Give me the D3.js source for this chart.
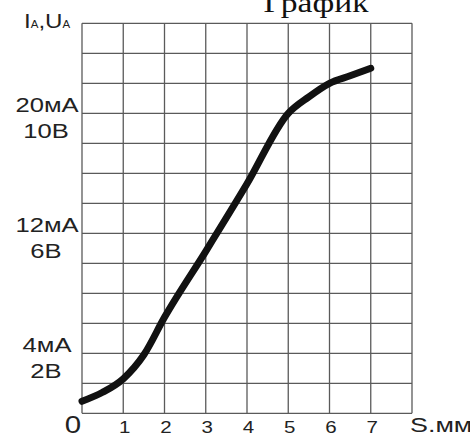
<!DOCTYPE html>
<html>
<head>
<meta charset="utf-8">
<script src="https://cdn.jsdelivr.net/npm/d3@7"></script>
<style>
  body { margin: 0; background: #fff; }
  text { font-family: "Liberation Sans", Arial, sans-serif; fill: #222; }
</style>
</head>
<body>
<svg id="sg"></svg>
<script>
// displacement S, mm and current I, mA (U = I/2, V)
const sValues = [0, 0.5, 1, 1.5, 2, 3, 4, 5, 5.5, 6, 6.5, 7];
const currentMA = [0.8, 1.4, 2.3, 3.9, 6.4, 10.8, 15.3, 20, 21.1, 22, 22.5, 23];
const xTicks = [1, 2, 3, 4, 5, 6, 7];
const yLabelValues = [4, 12, 20];
const yLabelsCurrent = ["4мА", "12мА", "20мА"];
const yLabelsVoltage = ["2В", "6В", "10В"];

let svgWidth = 470,
  svgHeight = 435;
let stretch = 1.28; // text in the picture is widened
let svg = d3.select("#sg").attr("width", svgWidth).attr("height", svgHeight);

let x = d3.scaleLinear().domain([0, 8]).range([82, 412]);
let y = d3.scaleLinear().domain([0, 26]).range([413.3, 23.3]);

// grid
let grid = svg.append("g").attr("stroke", "#5a5a5a").attr("stroke-width", 1.3);
grid.selectAll("line.v")
  .data(d3.range(0, 9))
  .enter()
  .append("line")
  .attr("x1", d => x(d))
  .attr("x2", d => x(d))
  .attr("y1", y(0))
  .attr("y2", y(26));
grid.selectAll("line.h")
  .data(d3.range(0, 27, 2))
  .enter()
  .append("line")
  .attr("x1", x(0))
  .attr("x2", x(8))
  .attr("y1", d => y(d))
  .attr("y2", d => y(d));

// curve
let line = d3.line()
  .x(d => x(d[0]))
  .y(d => y(d[1]))
  .curve(d3.curveMonotoneX);
svg.append("path")
  .datum(sValues.map((s, i) => [s, currentMA[i]]))
  .attr("fill", "none")
  .attr("stroke", "#111")
  .attr("stroke-width", 7)
  .attr("stroke-linejoin", "round")
  .attr("stroke-linecap", "round")
  .attr("d", line);

function stretchedText(px, py, size, str, anchor) {
  return svg.append("text")
    .attr("transform", "translate(" + px + "," + py + ") scale(" + stretch + ",1)")
    .attr("font-size", size)
    .attr("text-anchor", anchor || "middle")
    .text(str);
}

// x tick labels
xTicks.forEach(t => stretchedText(x(t) + 1.5, 433, 16, t));
stretchedText(73, 433, 23, "0");
stretchedText(410, 432, 21, "S.мм", "start");

// y labels
yLabelValues.forEach((v, i) => {
  stretchedText(47, y(v) - 1, 20, yLabelsCurrent[i]);
  stretchedText(46, y(v) + 25, 20, yLabelsVoltage[i]);
});

// y axis title I_A, U_A
let yt = svg.append("text")
  .attr("transform", "translate(24,28) scale(1.15,1)")
  .attr("font-size", 21);
yt.append("tspan").text("I");
yt.append("tspan").attr("font-size", 10).text("A");
yt.append("tspan").text(",U");
yt.append("tspan").attr("font-size", 10).text("A");

// title, clipped by the top edge
svg.append("text")
  .attr("transform", "translate(316,12) scale(1.2,1)")
  .style("font-family", "'Liberation Serif', 'Times New Roman', serif")
  .attr("font-size", 28)
  .attr("text-anchor", "middle")
  .style("fill", "#111")
  .text("График");
</script>
</body>
</html>
